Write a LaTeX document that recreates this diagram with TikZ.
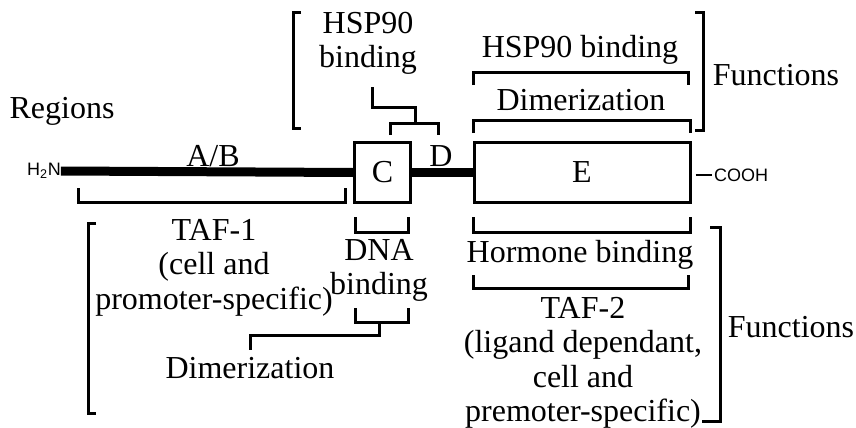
\documentclass[tikz,border=0pt]{standalone}
\usepackage{fontspec}
\setmainfont{Liberation Serif}
\newfontfamily\chemfont{Liberation Sans}
\begin{document}
\begin{tikzpicture}[x=1pt, y=-1pt, font=\fontsize{32}{34.5}\selectfont, inner sep=0pt,
  brk/.style={line width=3pt},
  dom/.style={draw, line width=3pt, minimum height=60pt},
  txt/.style={align=center, anchor=north},
  chem/.style={font=\chemfont\fontsize{18}{20}\selectfont}]
  \useasboundingbox (0,0) rectangle (856,428);
  % receptor chain
  \node[anchor=base] (regions) at (62,118) {Regions};
  \node[chem] (h2n) at (44,171) {H\textsubscript{2}N};
  \node[dom, minimum width=56pt] (cdom) at (382.5,172.5) {C};
  \node[dom, minimum width=216pt] (edom) at (582,172.5) {E};
  \node[chem, anchor=west] (cooh) at (714,175) {COOH};
  \draw[line width=9pt] (h2n.east) -- (cdom.west);
  \draw[line width=9pt] (cdom.east) -- (edom.west);
  \draw[line width=2.5pt] ([xshift=4pt]edom.east |- cooh.west) -- ([xshift=-2pt]cooh.west);
  \node[anchor=base] (ab) at (213,166) {A/B};
  \node[anchor=base] (dreg) at (441,166) {D};
  % functions above
  \draw[brk] (301,13) -- (293,13) -- (293,128) -- (301,128);
  \node[txt] (hspc) at (368,12) {HSP90\\binding};
  \draw[brk] (390,135) -- (390,123) -- (438,123) -- (438,135);
  \draw[brk] (415,123) -- (415,107) -- (372,107) -- (372,87);
  \node[anchor=base] (hspe) at (580,57) {HSP90 binding};
  \draw[brk] (473,85) -- (473,72) -- (688,72) -- (688,85);
  \node[anchor=base] (dime) at (581,110) {Dimerization};
  \draw[brk] (473,133) -- (473,120) -- (690,120) -- (690,133);
  \draw[brk] (695,13) -- (703,13) -- (703,130) -- (695,130);
  \node[anchor=base] (funtop) at (776,85) {Functions};
  % functions below
  \draw[brk] (78,188) -- (78,202) -- (345,202) -- (345,188);
  \node[txt] (taf1) at (214,219) {TAF-1\\(cell and\\promoter-specific)};
  \draw[brk] (355,217) -- (355,232) -- (408,232) -- (408,217);
  \node[txt] (dnab) at (379,239) {DNA\\binding};
  \draw[brk] (355,308) -- (355,322) -- (408,322) -- (408,308);
  \draw[brk] (379,322) -- (379,335) -- (250,335) -- (250,350);
  \node[anchor=base] (dimc) at (250,378) {Dimerization};
  \draw[brk] (96,223) -- (88,223) -- (88,413) -- (96,413);
  \draw[brk] (473,217) -- (473,232) -- (690,232) -- (690,217);
  \node[anchor=base] (horm) at (580,262) {Hormone binding};
  \draw[brk] (473,275) -- (473,288) -- (688,288) -- (688,275);
  \node[txt] (taf2) at (583,297) {TAF-2\\(ligand dependant,\\cell and\\premoter-specific)};
  \draw[brk] (710,227) -- (720,227) -- (720,421) -- (702,421);
  \node[anchor=base] (funbot) at (791,337) {Functions};
\end{tikzpicture}
\end{document}
